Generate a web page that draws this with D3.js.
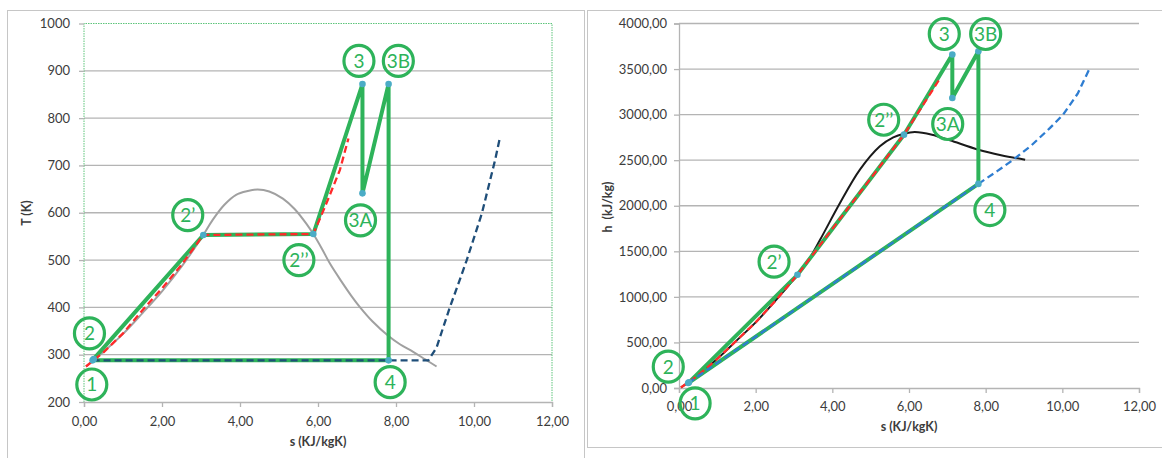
<!DOCTYPE html>
<html><head><meta charset="utf-8">
<script src="https://cdn.jsdelivr.net/npm/d3@7/dist/d3.min.js"></script>
<style>
body{margin:0;background:#fff;}
svg{display:block;font-family:Lato,"Open Sans",sans-serif;}
</style></head><body>
<svg id="c" width="1162" height="458"></svg>
<script>
// ---------- axis ticks ----------
const sTicks = [0, 2, 4, 6, 8, 10, 12];
const sTickLabels = ["0,00", "2,00", "4,00", "6,00", "8,00", "10,00", "12,00"];
const tTicks = [200, 300, 400, 500, 600, 700, 800, 900, 1000];
const tTickLabels = ["200", "300", "400", "500", "600", "700", "800", "900", "1000"];
const hTicks = [0, 500, 1000, 1500, 2000, 2500, 3000, 3500, 4000];
const hTickLabels = ["0,00", "500,00", "1000,00", "1500,00", "2000,00", "2500,00", "3000,00", "3500,00", "4000,00"];

// ---------- cycle (green) ----------
const cycleNames = ["1", "2", "2’", "2’’", "3", "3A", "3B", "4", "1"];
const cycleS_T = [0.22, 0.25, 3.06, 5.88, 7.14, 7.14, 7.81, 7.81, 0.22];
const cycleT = [288, 291, 553, 555, 872, 641, 872, 288, 288];
const cycleS_h = [0.24, 0.26, 3.09, 5.87, 7.13, 7.13, 7.81, 7.81, 0.24];
const cycleH = [55, 62, 1242, 2780, 3659, 3183, 3696, 2240, 55];

// ---------- T-s diagram curves ----------
const domeS_T = [0.05, 0.5, 1.0, 1.5, 2.0, 2.5, 3.06, 3.3, 3.6, 3.9, 4.2, 4.45, 4.75, 5.1, 5.4, 5.7, 5.88, 6.1, 6.31, 6.6, 6.85, 7.08, 7.4, 7.8, 8.1, 8.44, 8.75, 9.04];
const domeT = [275, 306, 344, 388, 434, 486, 553, 585, 617, 638, 646, 649, 645, 630, 608, 577, 555, 524, 492, 455, 425, 400, 370, 340, 322, 306, 290, 275];
const hpS_T = [0.05, 0.5, 1.0, 1.52, 2.0, 2.5, 3.06, 5.88, 6.0, 6.14, 6.3, 6.56, 6.78];
const hpT = [275, 305, 345, 396, 440, 490, 553, 555, 578, 605, 637, 690, 757];
const lpS_T = [0.22, 8.83, 9.04, 9.2, 9.38, 9.6, 9.81, 10.2, 10.54, 10.66];
const lpT = [288, 288, 315, 355, 400, 450, 499, 598, 711, 757];

// ---------- h-s diagram curves ----------
const domeS_h = [0.05, 0.5, 1.0, 1.5, 2.0, 2.5, 3.09, 3.33, 3.68, 4.2, 4.72, 5.24, 5.59, 5.87, 6.15, 6.6, 7.07, 7.81, 8.4, 9.03];
const domeH = [5, 140, 320, 520, 720, 950, 1242, 1370, 1626, 2030, 2396, 2652, 2750, 2790, 2808, 2780, 2718, 2615, 2555, 2505];
const hpS_h = [0.05, 0.5, 1.0, 1.5, 2.0, 2.5, 3.09, 5.87, 6.79];
const hpH = [5, 140, 320, 520, 720, 950, 1242, 2780, 3385];
const lpS_h = [0.24, 7.81, 8.3, 8.72, 9.2, 9.68, 10.02, 10.4, 10.69];
const lpH = [55, 2240, 2380, 2505, 2665, 2854, 3000, 3230, 3487];

// ---------- point labels (anchor in data units) ----------
const labelNames = ["1", "2", "2’", "2’’", "3", "3B", "3A", "4"];
const labelS_T = [0.20, 0.14, 2.66, 5.51, 7.05, 8.06, 7.09, 7.85];
const labelT = [237, 345, 595, 500, 921, 921, 584, 242];
const labelS_h = [0.42, -0.28, 2.48, 5.34, 6.92, 8.00, 7.01, 8.11];
const labelH = [-168, 234, 1386, 2944, 3885, 3885, 2897, 1953];

const GREEN = "#2eb35a", GRID = "#b4b4b4", TXT = "#3c3c3c";
const svg = d3.select("#c");

// chart frames
svg.append("rect").attr("x", 7.5).attr("y", 10.5).attr("width", 577).attr("height", 470)
  .attr("fill", "none").attr("stroke", "#c6c6c6");
svg.append("rect").attr("x", 587.5).attr("y", 10.5).attr("width", 600).attr("height", 437)
  .attr("fill", "none").attr("stroke", "#c6c6c6");

function zip(a, b) { return a.map((v, i) => [v, b[i]]); }

function drawChart(o) {
  const g = svg.append("g");
  const x = d3.scaleLinear().domain([0, 12]).range(o.xr);
  const y = d3.scaleLinear().domain(o.yd).range(o.yr);

  // gridlines
  g.append("g").selectAll("line").data(o.yTicks.filter(v => v !== o.yd[0] && !(o.greenTop && v === o.yd[1])))
    .join("line").attr("x1", o.xr[0]).attr("x2", o.xr[1])
    .attr("y1", d => y(d)).attr("y2", d => y(d))
    .attr("stroke", GRID).attr("stroke-width", 1.3);

  if (o.greenTop) {
    g.append("path")
      .attr("d", `M${o.xr[0]},${o.yr[0]}V${o.yr[1]}H${o.xr[1]}V${o.yr[0]}`)
      .attr("fill", "none").attr("stroke", "#5cc47a").attr("stroke-width", 1)
      .attr("stroke-dasharray", "1.5,1");
  }

  // y axis
  const ya = g.append("g").attr("transform", `translate(${o.xr[0]},0)`)
    .call(d3.axisLeft(y).tickValues(o.yTicks).tickFormat((d, i) => o.yLabels[i]).tickSize(5).tickPadding(o.yPad));
  ya.select(".domain").attr("stroke", o.greenTop ? "none" : GRID).attr("stroke-width", 1.3);
  ya.selectAll(".tick line").attr("stroke", GRID).attr("stroke-width", 1.3);
  ya.selectAll("text").attr("fill", TXT).style("font-size", "13px").style("font-family", "Lato");

  // x axis
  const xa = g.append("g").attr("transform", `translate(0,${o.yr[0]})`)
    .call(d3.axisBottom(x).tickValues(sTicks).tickFormat((d, i) => sTickLabels[i]).tickSize(5).tickPadding(o.xPad));
  xa.select(".domain").attr("stroke", GRID).attr("stroke-width", 1.3);
  xa.selectAll(".tick line").attr("stroke", GRID).attr("stroke-width", 1.3);
  xa.selectAll("text").attr("fill", TXT).style("font-size", "13px").style("font-family", "Lato");

  // axis titles
  g.append("text").attr("x", (o.xr[0] + o.xr[1]) / 2).attr("y", o.xTitleY)
    .attr("text-anchor", "middle").attr("font-weight", "bold").attr("font-size", 12.5)
    .attr("fill", TXT).text("s (KJ/kgK)");
  g.append("text").attr("transform", `translate(${o.yTitleX},${o.yTitleY}) rotate(-90)`)
    .attr("text-anchor", "middle").attr("font-weight", "bold").attr("font-size", 12.5)
    .attr("fill", TXT).style("white-space", "pre").text(o.yTitle);

  const lin = d3.line().x(d => x(d[0])).y(d => y(d[1]));
  const smooth = d3.line().x(d => x(d[0])).y(d => y(d[1])).curve(d3.curveCatmullRom.alpha(0.5));

  // saturation dome
  g.append("path").attr("d", smooth(zip(o.domeS, o.domeV))).attr("fill", "none")
    .attr("stroke", o.domeColor).attr("stroke-width", 2);
  // cycle
  g.append("path").attr("d", lin(zip(o.cycS, o.cycV))).attr("fill", "none")
    .attr("stroke", GREEN).attr("stroke-width", 4).attr("stroke-linejoin", "round");
  // high pressure isobar (red dashed)
  g.append("path").attr("d", lin(zip(o.hpS, o.hpV))).attr("fill", "none")
    .attr("stroke", "#ff2a2a").attr("stroke-width", 2.3).attr("stroke-dasharray", "7,4");
  // low pressure isobar (blue dashed)
  g.append("path").attr("d", lin(zip(o.lpS, o.lpV))).attr("fill", "none")
    .attr("stroke", o.lpColor).attr("stroke-width", 2.3).attr("stroke-dasharray", "7,4");
  // markers
  g.append("g").selectAll("circle").data(zip(o.cycS, o.cycV).slice(0, 8)).join("circle")
    .attr("cx", d => x(d[0])).attr("cy", d => y(d[1])).attr("r", 3.3).attr("fill", "#4bacc6");

  // labels
  const lg = g.append("g").selectAll("g").data(labelNames).join("g")
    .attr("transform", (d, i) => `translate(${x(o.labS[i])},${y(o.labV[i])})`);
  lg.append("ellipse").attr("rx", 15).attr("ry", 15.5).attr("fill", "none")
    .attr("stroke", GREEN).attr("stroke-width", 3.2);
  lg.append("text").attr("text-anchor", "middle").attr("dy", "0.36em")
    .attr("font-size", 19).attr("fill", GREEN).text(d => d);
}

drawChart({
  xr: [84, 552], yd: [200, 1000], yr: [402, 23.5],
  yTicks: tTicks, yLabels: tTickLabels, yPad: 9, xPad: 10, greenTop: true,
  xTitleY: 446, yTitleX: 31, yTitleY: 213, yTitle: "T (K)",
  domeS: domeS_T, domeV: domeT, domeColor: "#a0a0a0",
  cycS: cycleS_T, cycV: cycleT,
  hpS: hpS_T, hpV: hpT,
  lpS: lpS_T, lpV: lpT, lpColor: "#1f4e79",
  labS: labelS_T, labV: labelT
});

drawChart({
  xr: [679, 1139], yd: [0, 4000], yr: [388, 23.5],
  yTicks: hTicks, yLabels: hTickLabels, yPad: 7, xPad: 9, greenTop: false,
  xTitleY: 431, yTitleX: 612, yTitleY: 207, yTitle: "h  (kJ/kg)",
  domeS: domeS_h, domeV: domeH, domeColor: "#1a1a1a",
  cycS: cycleS_h, cycV: cycleH,
  hpS: hpS_h, hpV: hpH,
  lpS: lpS_h, lpV: lpH, lpColor: "#2e7dd1",
  labS: labelS_h, labV: labelH
});
</script>
</body></html>
